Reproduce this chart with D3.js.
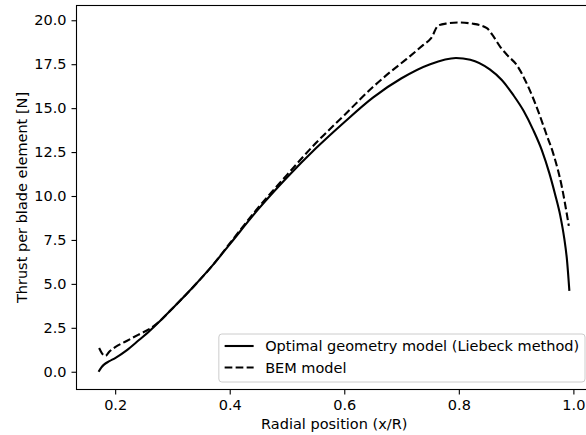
<!DOCTYPE html>
<html>
<head>
<meta charset="utf-8">
<script src="https://cdn.jsdelivr.net/npm/d3@7"></script>
<style>
  body { margin: 0; background: #fff; }
  svg { display: block; font-family: "DejaVu Sans", sans-serif; }
</style>
</head>
<body>
<svg id="chart" width="586" height="435"></svg>
<script>
// Optimal geometry model (Liebeck method)
const optimalX = [0.171, 0.176, 0.181, 0.19, 0.2, 0.22, 0.24, 0.261, 0.28, 0.3, 0.337, 0.37, 0.4, 0.45, 0.5, 0.55, 0.6, 0.65, 0.7, 0.75, 0.795, 0.82, 0.854, 0.875, 0.895, 0.913, 0.93, 0.945, 0.958, 0.968, 0.977, 0.984, 0.989, 0.993];
const optimalY = [0.0, 0.25, 0.42, 0.6, 0.78, 1.22, 1.76, 2.35, 2.95, 3.6, 4.85, 6.05, 7.25, 9.25, 11.05, 12.7, 14.2, 15.6, 16.7, 17.5, 17.85, 17.75, 17.2, 16.6, 15.75, 14.85, 13.75, 12.6, 11.3, 10.1, 8.9, 7.6, 6.3, 4.6];

// BEM model
const bemX = [0.172, 0.177, 0.183, 0.19, 0.2, 0.22, 0.24, 0.261, 0.275, 0.3, 0.337, 0.37, 0.4, 0.45, 0.5, 0.55, 0.6, 0.65, 0.68, 0.709, 0.738, 0.752, 0.764, 0.78, 0.8, 0.825, 0.849, 0.858, 0.872, 0.885, 0.9, 0.92, 0.94, 0.953, 0.965, 0.98, 0.992];
const bemY = [1.35, 1.05, 0.9, 1.15, 1.4, 1.75, 2.1, 2.45, 2.8, 3.6, 4.85, 6.05, 7.3, 9.35, 11.2, 13.0, 14.6, 16.2, 17.05, 17.8, 18.6, 19.0, 19.7, 19.82, 19.87, 19.8, 19.55, 19.2, 18.5, 18.0, 17.5, 16.3, 14.7, 13.5, 12.4, 10.5, 8.3];

const xTicks = [0.2, 0.4, 0.6, 0.8, 1.0];
const yTicks = [0.0, 2.5, 5.0, 7.5, 10.0, 12.5, 15.0, 17.5, 20.0];
const seriesNames = ['Optimal geometry model (Liebeck method)', 'BEM model'];

const fontSize = 14.5;
const plot = { left: 76.5, right: 592, top: 5.5, bottom: 389.5 };

const svg = d3.select('#chart');

const xScale = d3.scaleLinear()
    .domain([0.1325, 1.0325])
    .range([plot.left, plot.right]);
const yScale = d3.scaleLinear()
    .domain([-1.01, 20.84])
    .range([plot.bottom, plot.top]);

// Axes
let xAxis = d3.axisBottom(xScale)
    .tickValues(xTicks)
    .tickFormat(d3.format('.1f'))
    .tickSizeInner(5)
    .tickSizeOuter(0)
    .tickPadding(5);
let yAxis = d3.axisLeft(yScale)
    .tickValues(yTicks)
    .tickFormat(d3.format('.1f'))
    .tickSizeInner(5)
    .tickSizeOuter(0)
    .tickPadding(5);

let gx = svg.append('g')
    .attr('transform', `translate(0, ${plot.bottom})`)
    .call(xAxis);
let gy = svg.append('g')
    .attr('transform', `translate(${plot.left}, 0)`)
    .call(yAxis);

[gx, gy].forEach(g => {
    g.select('.domain').remove();
    g.selectAll('.tick line').attr('stroke', '#000').attr('stroke-width', 1.1);
    g.selectAll('.tick text')
        .attr('fill', '#000')
        .style('font-family', '"DejaVu Sans", sans-serif')
        .style('font-size', fontSize + 'px');
});

// Spines
svg.append('rect')
    .attr('x', plot.left)
    .attr('y', plot.top)
    .attr('width', plot.right - plot.left)
    .attr('height', plot.bottom - plot.top)
    .attr('fill', 'none')
    .attr('stroke', '#000')
    .attr('stroke-width', 1.1);

// Curves
let line = d3.line()
    .x(d => xScale(d[0]))
    .y(d => yScale(d[1]))
    .curve(d3.curveMonotoneX);

const optimalData = optimalX.map((x, i) => [x, optimalY[i]]);
const bemData = bemX.map((x, i) => [x, bemY[i]]);

svg.append('path')
    .datum(optimalData)
    .attr('d', line)
    .attr('fill', 'none')
    .attr('stroke', '#000')
    .attr('stroke-width', 2.1);

svg.append('path')
    .datum(bemData)
    .attr('d', line)
    .attr('fill', 'none')
    .attr('stroke', '#000')
    .attr('stroke-width', 2.1)
    .attr('stroke-dasharray', '7.7,3.3');

// Axis labels
svg.append('text')
    .attr('x', (plot.left + plot.right) / 2)
    .attr('y', 429)
    .attr('text-anchor', 'middle')
    .style('font-size', fontSize + 'px')
    .text('Radial position (x/R)');

svg.append('text')
    .attr('transform', `translate(27, ${(plot.top + plot.bottom) / 2}) rotate(-90)`)
    .attr('text-anchor', 'middle')
    .style('font-size', fontSize + 'px')
    .text('Thrust per blade element [N]');

// Legend (lower right)
let legend = svg.append('g');
let legendBox = legend.append('rect')
    .attr('fill', '#fff')
    .attr('fill-opacity', 0.8)
    .attr('stroke', '#cccccc')
    .attr('stroke-width', 1)
    .attr('rx', 3);

const rowGap = 21.5;
const legendRight = 585;
const legendBottom = 382;
const legendTop = legendBottom - 48;

let rows = legend.selectAll('.legend-row')
    .data(seriesNames)
    .enter().append('g')
    .attr('class', 'legend-row');

rows.append('text')
    .attr('y', (d, i) => legendTop + 12 + i * rowGap + 5.2)
    .style('font-size', fontSize + 'px')
    .text(d => d);

let maxText = d3.max(rows.selectAll('text').nodes(), n => n.getComputedTextLength());
let legendLeft = legendRight - 5.8 - maxText - 11.5 - 29 - 5.8;

rows.select('text').attr('x', legendLeft + 5.8 + 29 + 11.5);
rows.append('line')
    .attr('x1', legendLeft + 5.8)
    .attr('x2', legendLeft + 5.8 + 29)
    .attr('y1', (d, i) => legendTop + 12 + i * rowGap)
    .attr('y2', (d, i) => legendTop + 12 + i * rowGap)
    .attr('stroke', '#000')
    .attr('stroke-width', 2.1)
    .attr('stroke-dasharray', (d, i) => i === 1 ? '7.7,3.3' : null);

legendBox
    .attr('x', legendLeft)
    .attr('y', legendTop)
    .attr('width', legendRight - legendLeft)
    .attr('height', legendBottom - legendTop);
</script>
</body>
</html>
